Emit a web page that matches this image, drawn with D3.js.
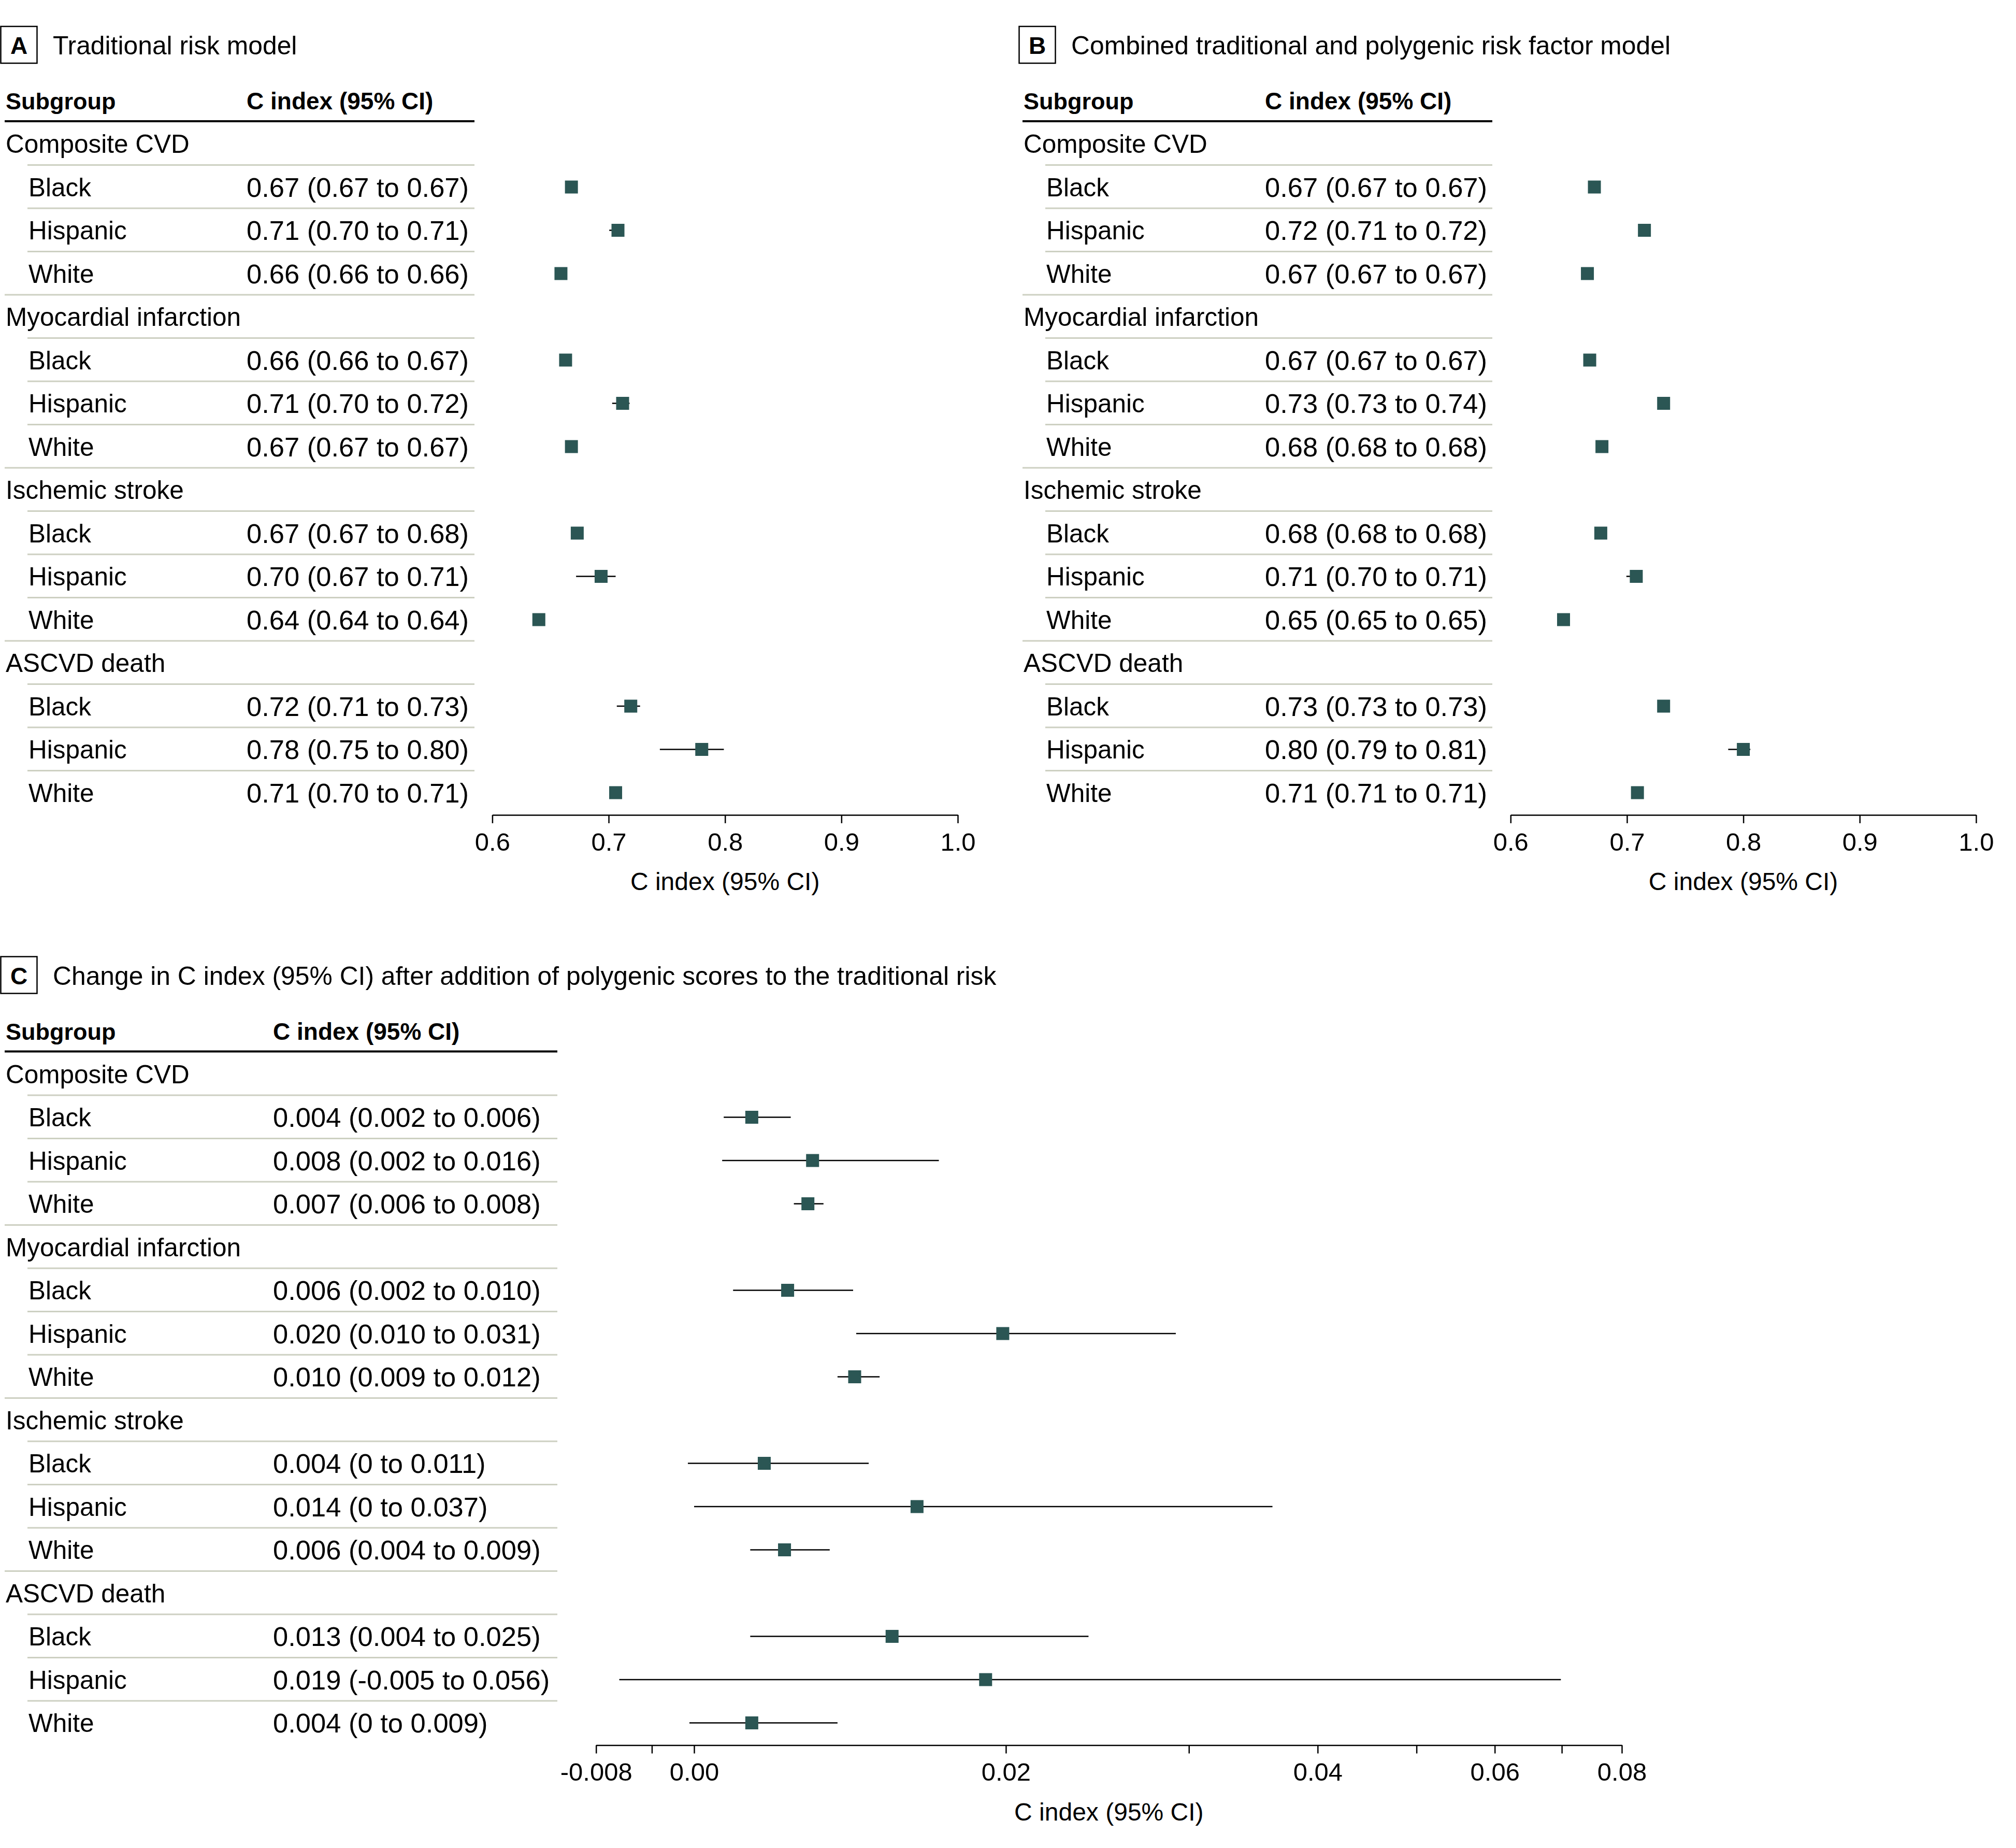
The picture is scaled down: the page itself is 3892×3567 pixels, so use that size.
<!DOCTYPE html>
<html>
<head>
<meta charset="utf-8">
<script src="https://cdn.jsdelivr.net/npm/d3@7"></script>
<style>
  html, body { margin: 0; padding: 0; background: #fff; }
  svg { display: block; font-family: "Liberation Sans", Arial, sans-serif; }
</style>
</head>
<body>
<svg id="chart" width="3892" height="3567"></svg>
<script>
// ---------------- DATA ----------------
const groups = ["Composite CVD", "Myocardial infarction", "Ischemic stroke", "ASCVD death"];
const races = ["Black", "Hispanic", "White"];

// Panel A: traditional risk model
const A_text = ["0.67 (0.67 to 0.67)", "0.71 (0.70 to 0.71)", "0.66 (0.66 to 0.66)",
                "0.66 (0.66 to 0.67)", "0.71 (0.70 to 0.72)", "0.67 (0.67 to 0.67)",
                "0.67 (0.67 to 0.68)", "0.70 (0.67 to 0.71)", "0.64 (0.64 to 0.64)",
                "0.72 (0.71 to 0.73)", "0.78 (0.75 to 0.80)", "0.71 (0.70 to 0.71)"];
const A_est = [0.668, 0.708, 0.659, 0.663, 0.712, 0.668, 0.673, 0.6935, 0.640, 0.719, 0.780, 0.706];
const A_lo  = [0.666, 0.7005, 0.657, 0.661, 0.703, 0.666, 0.670, 0.672, 0.638, 0.707, 0.744, 0.703];
const A_hi  = [0.670, 0.712, 0.661, 0.665, 0.718, 0.670, 0.676, 0.706, 0.642, 0.727, 0.799, 0.709];

// Panel B: combined traditional and polygenic risk factor model
const B_text = ["0.67 (0.67 to 0.67)", "0.72 (0.71 to 0.72)", "0.67 (0.67 to 0.67)",
                "0.67 (0.67 to 0.67)", "0.73 (0.73 to 0.74)", "0.68 (0.68 to 0.68)",
                "0.68 (0.68 to 0.68)", "0.71 (0.70 to 0.71)", "0.65 (0.65 to 0.65)",
                "0.73 (0.73 to 0.73)", "0.80 (0.79 to 0.81)", "0.71 (0.71 to 0.71)"];
const B_est = [0.672, 0.715, 0.666, 0.668, 0.7315, 0.6785, 0.6775, 0.708, 0.6455, 0.7315, 0.800, 0.709];
const B_lo  = [0.670, 0.712, 0.664, 0.666, 0.728, 0.676, 0.675, 0.6995, 0.643, 0.728, 0.787, 0.707];
const B_hi  = [0.674, 0.718, 0.668, 0.670, 0.735, 0.681, 0.680, 0.712, 0.648, 0.735, 0.806, 0.711];

// Panel C: change in C index after adding polygenic scores
const C_text = ["0.004 (0.002 to 0.006)", "0.008 (0.002 to 0.016)", "0.007 (0.006 to 0.008)",
                "0.006 (0.002 to 0.010)", "0.020 (0.010 to 0.031)", "0.010 (0.009 to 0.012)",
                "0.004 (0 to 0.011)", "0.014 (0 to 0.037)", "0.006 (0.004 to 0.009)",
                "0.013 (0.004 to 0.025)", "0.019 (-0.005 to 0.056)", "0.004 (0 to 0.009)"];
const C_est = [0.0037, 0.0076, 0.0073, 0.0060, 0.0198, 0.0103, 0.0045, 0.0143, 0.0058, 0.0127, 0.0187, 0.0037];
const C_lo  = [0.0019, 0.0018, 0.0064, 0.0025, 0.0104, 0.0092, -0.0004, 0.0000, 0.0036, 0.0036, -0.0048, -0.0003];
const C_hi  = [0.0062, 0.0157, 0.0083, 0.0102, 0.0309, 0.0119, 0.0112, 0.0371, 0.0087, 0.0253, 0.0556, 0.0092];

// Axis ticks
const AB_tickVals = [0.6, 0.7, 0.8, 0.9, 1.0];
const AB_tickLabels = ["0.6", "0.7", "0.8", "0.9", "1.0"];
// Panel C axis, as printed (tick marks in data units, with the printed labels)
const C_tickVals = [-0.00629, -0.00271, 0, 0.02, 0.03174, 0.04, 0.04634, 0.05136, 0.05566, 0.05951];
const C_tickLabels = ["-0.008", "", "0.00", "0.02", "", "0.04", "", "0.06", "", "0.08"];

const titles = {
  A: "Traditional risk model",
  B: "Combined traditional and polygenic risk factor model",
  C: "Change in C index (95% CI) after addition of polygenic scores to the traditional risk"
};

// ---------------- STYLE / LAYOUT ----------------
const MARK = "#2b5654";
const SEP = "#cdd0c2";
const ROW0 = 277.5, ROWH = 83.5;
const LABEL_FS = 49.5, VALUE_FS = 52.5, HEAD_FS = 45, TITLE_FS = 49.8, TICK_FS = 49, AXT_FS = 48;

const panels = [
  { key: "A", text: A_text, est: A_est, lo: A_lo, hi: A_hi,
    px: 0, yOff: 0, labelX: 11, indentX: 55, valueX: 476, lineL: 9, lineIndent: 53, lineR: 916,
    domain: [0.6, 1.0], range: [950.4, 1849], ticks: AB_tickVals, tickLabels: AB_tickLabels },
  { key: "B", text: B_text, est: B_est, lo: B_lo, hi: B_hi,
    px: 1966, yOff: 0, labelX: 1976, indentX: 2020, valueX: 2442, lineL: 1974, lineIndent: 2018, lineR: 2881,
    domain: [0.6, 1.0], range: [2916.3, 3814.9], ticks: AB_tickVals, tickLabels: AB_tickLabels },
  { key: "C", text: C_text, est: C_est, lo: C_lo, hi: C_hi,
    px: 0, yOff: 1795.5, labelX: 11, indentX: 55, valueX: 527, lineL: 9, lineIndent: 53, lineR: 1076,
    domain: [C_tickVals[0], C_tickVals[C_tickVals.length - 1]], range: [1150.7, 3131],
    ticks: C_tickVals, tickLabels: C_tickLabels }
];

const svg = d3.select("#chart");
svg.append("rect").attr("width", 3892).attr("height", 3567).attr("fill", "#fff");

panels.forEach(p => {
  const g = svg.append("g");
  const y0 = p.yOff;

  // Letter box + title
  g.append("rect").attr("x", p.px + 1.5).attr("y", y0 + 51).attr("width", 70).attr("height", 71)
    .attr("fill", "none").attr("stroke", "#000").attr("stroke-width", 2.5);
  g.append("text").attr("x", p.px + 36.5).attr("y", y0 + 104).attr("text-anchor", "middle")
    .attr("font-size", 46).attr("font-weight", "bold").text(p.key);
  g.append("text").attr("x", p.px + 102).attr("y", y0 + 105).attr("font-size", TITLE_FS).text(titles[p.key]);

  // Header
  g.append("text").attr("x", p.labelX).attr("y", y0 + 211).attr("font-size", HEAD_FS)
    .attr("font-weight", "bold").text("Subgroup");
  g.append("text").attr("x", p.valueX).attr("y", y0 + 211).attr("font-size", HEAD_FS + 1)
    .attr("font-weight", "bold").text("C index (95% CI)");
  g.append("line").attr("x1", p.lineL).attr("x2", p.lineR).attr("y1", y0 + 234).attr("y2", y0 + 234)
    .attr("stroke", "#000").attr("stroke-width", 4);

  // Build rows
  const rows = [];
  let k = 0;
  groups.forEach(gr => {
    rows.push({ type: "head", label: gr });
    races.forEach(r => {
      rows.push({ type: "item", label: r, text: p.text[k], est: p.est[k], lo: p.lo[k], hi: p.hi[k] });
      k++;
    });
  });
  rows.forEach((r, i) => r.y = y0 + ROW0 + ROWH * i);

  // Separators
  rows.forEach((r, i) => {
    if (i === rows.length - 1) return;
    const nextHead = rows[i + 1].type === "head";
    g.append("line")
      .attr("x1", nextHead ? p.lineL : p.lineIndent).attr("x2", p.lineR)
      .attr("y1", r.y + 41).attr("y2", r.y + 41)
      .attr("stroke", SEP).attr("stroke-width", 3);
  });

  // Row texts
  rows.forEach(r => {
    g.append("text").attr("x", r.type === "head" ? p.labelX : p.indentX).attr("y", r.y + 17.5)
      .attr("font-size", LABEL_FS).text(r.label);
    if (r.type === "item") {
      g.append("text").attr("x", p.valueX).attr("y", r.y + 18.5)
        .attr("font-size", VALUE_FS).text(r.text);
    }
  });

  // Scale and marks
  const x = d3.scaleLinear().domain(p.domain).range(p.range);
  const items = rows.filter(r => r.type === "item");
  g.selectAll(".ci").data(items).join("line")
    .attr("x1", d => x(d.lo)).attr("x2", d => x(d.hi))
    .attr("y1", d => d.y).attr("y2", d => d.y)
    .attr("stroke", "#000").attr("stroke-width", 2.5);
  g.selectAll(".pt").data(items).join("rect")
    .attr("x", d => x(d.est) - 12.5).attr("y", d => d.y - 12.5)
    .attr("width", 25).attr("height", 25).attr("fill", MARK);

  // Axis
  const axisY = y0 + 1573;
  const ax = d3.axisBottom(x).tickValues(p.ticks)
    .tickFormat((d, i) => p.tickLabels[i]).tickSize(16).tickSizeOuter(0).tickPadding(18);
  const axg = g.append("g").attr("transform", `translate(0,${axisY})`).call(ax);
  axg.select(".domain").attr("stroke", "#000").attr("stroke-width", 2.5);
  axg.selectAll(".tick line").attr("stroke", "#000").attr("stroke-width", 2.5);
  axg.selectAll(".tick text").attr("font-size", TICK_FS).attr("fill", "#000")
    .attr("font-family", "Liberation Sans, Arial, sans-serif");

  g.append("text").attr("x", (p.range[0] + p.range[1]) / 2).attr("y", y0 + 1718)
    .attr("text-anchor", "middle").attr("font-size", AXT_FS).text("C index (95% CI)");
});
</script>
</body>
</html>
